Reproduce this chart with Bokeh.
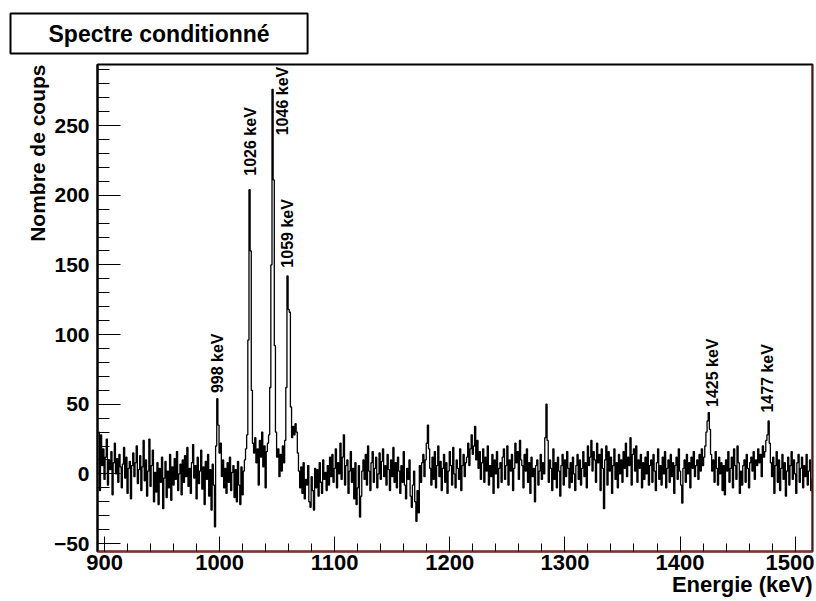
import numpy as np
from bokeh.plotting import figure
from bokeh.models import Label, Span, SingleIntervalTicker, Range1d, Title
from bokeh.embed import file_html
from bokeh.resources import INLINE

# Counts per 1 keV bin, in segments (start energy in keV)
seg_895 = [30, -12, 28, 6, 18, -4, 12, 25, -8, 10,
           3, 16, -15, 8, 22, 0, 11, -6, 14, 5,
           -10, 7, 19, -3, 12, -14, 4, 9, -18, 6,
           15, -2, 8, 20, -7, 3, 13, -12, 5, 24,
           -5, 10, -16, 2, 25, -9, 6, 17, -20, 1,
           -13, 8, -22, 4, -6, 12, -25, -3, 9, -17,
           2, -10, 14, -19, 5, -8, 11, -4, 16, -12,
           0, 7, -15, 10, -6, 13, -2, 19, -9, 4,
           -14, 8, 21, -3, 6, -18, 12, -7, 2, 17,
           -11, 5, -22, 9, -4, 14, -16, 3, -26, 7]
seg_995 = [-8, -38, 20, 54, 35, 15, 22, -2, 10, -10,
           4, -14, 8, -6, 12, -12, 1, 6, -17, 3,
           -20, 9, -8, -22, 5, -15, 2, 10, 18, 28,
           96, 204, 160, 60, 22, 15, 26, 8, 18, -8,
           24, 12, 30, 5, 20, -10, 16, 22, 28, 62,
           150, 276, 211, 92, 30, 12, 18, -2, 14, 2,
           20, 8, 24, 62, 142, 118, 116, 48, 26, 34,
           28, 36, 30, 15, 2, -10, 5, -14, 8, -18,
           -4, -8, 6, -20, -24, -2, -12, -26, 4, -10,
           3, -16, 8, -6, -14, 10, -4, 1, -12, 6]
seg_1095 = [-8, 12, -2, 14, -6, 4, 18, -10, 8, 0,
            22, -4, 12, 28, -8, 6, 10, -14, 2, 16,
            -6, 4, -18, 8, -22, -10, 6, -31, -16, 2,
            10, -4, 14, -8, 20, 2, -12, 8, 16, -6,
            4, 12, -10, 0, 15, -4, 9, 18, -2, 6,
            -8, 14, 3, -12, 10, -2, 19, -6, 8, -10,
            12, 2, -14, 6, -6, 16, -8, -18, 4, -4,
            10, -16, -24, -8, 2, -20, -34, -12, -28, 6,
            -6, 8, 14, -2, 10, 22, 35, 18, 4, -8,
            12, -4, 16, -10, 6, 20, -2, 9, -12, 4]
seg_1195 = [14, -6, 8, -14, 2, 16, 6, -8, 19, 0,
            -10, 10, 4, -4, 18, -12, 6, 14, -2, 8,
            12, 22, 6, 18, 28, 14, 20, 34, 10, 24,
            4, 16, -4, 8, 18, -6, 12, 2, 20, -8,
            6, -2, 14, -14, 10, 0, 16, -10, 4, 8,
            -6, 12, 18, -4, 6, 20, -8, 10, 2, 14,
            -12, 4, 22, 8, 16, -4, 24, 10, 6, -10,
            14, 2, 18, -6, 8, -14, 12, -2, 4, -20,
            6, 10, -8, 2, 14, -4, 8, 0, 26, 50,
            24, -6, 10, 4, -12, 18, -4, 8, -10, 12]
seg_1295 = [2, -16, 6, 14, -8, 10, -2, 16, 4, -10,
            8, -6, 12, 0, -12, 6, 14, -4, 10, -8,
            4, 16, -2, 8, -10, 20, 6, 12, 24, 2,
            16, 10, -6, 22, 8, 14, -12, 18, 4, -25,
            10, 20, -8, 16, 2, 12, -14, 6, 18, -4,
            8, -10, 14, 0, 10, -6, 16, 4, 22, -2,
            12, 6, 26, -8, 14, 18, 2, 20, -6, 10,
            4, 14, -10, 8, -4, 12, 0, 16, -8, 6,
            10, -6, 14, 2, -12, 8, 18, -4, 6, -8,
            12, 0, 16, -10, 4, 10, -6, 14, -2, 8]
seg_1395 = [-14, 6, 12, -4, 18, 2, -8, -21, 4, 10,
            -6, 14, 0, 8, -10, 12, 4, 16, -2, 6,
            10, -4, 14, 2, 18, 6, 12, 20, 30, 38,
            44, 32, 14, 2, 10, -6, 16, 4, -8, 12,
            0, 8, -12, 6, -15, 10, 2, 16, -6, 4,
            12, -10, 18, 6, -4, 20, 8, -14, 2, -8,
            6, 10, -6, 14, 4, -10, 8, 12, 2, 16,
            -4, 10, 6, 18, 8, 14, -2, 20, 12, 16,
            24, 28, 38, 22, 8, -2, 12, -14, 6, 16,
            -6, 10, -12, 4, 14, -4, 8, -16, 2, 12]
seg_1495 = [-8, 6, 16, -4, 10, 0, -14, 8, 14, -6,
            4, 12, -10, 6, -2, 14, -8, 2, 10, -12,
            -4, -10, 6, -6, 2, -12]

segments = [(895, seg_895), (995, seg_995), (1095, seg_1095), (1195, seg_1195),
            (1295, seg_1295), (1395, seg_1395), (1495, seg_1495)]

peak_label_x = [998, 1027, 1055, 1059, 1428, 1476]
peak_label_y = [58, 214, 243, 148, 48, 44]
peak_texts = ["998 keV", "1026 keV", "1046 keV", "1059 keV", "1425 keV", "1477 keV"]

energies = []
counts = []
for start, seg in segments:
    for i, c in enumerate(seg):
        energies.append(start + i)
        counts.append(c)

FONT = "Liberation Sans"
RED = "#9b2c2c"

X0, X1 = 893.9, 1515.1
Y0, Y1 = -55.7, 293.8

p = figure(width=814, height=600, output_backend="svg", toolbar_location=None,
           x_range=Range1d(X0, X1), y_range=Range1d(Y0, Y1),
           min_border_left=97, min_border_right=2, min_border_top=64, min_border_bottom=49)
p.background_fill_color = "white"
p.border_fill_color = "white"
p.grid.visible = False
p.outline_line_color = "black"
p.outline_line_width = 2

p.step(x=energies, y=counts, mode="center", line_color="black", line_width=1.3)

# Axes
p.xaxis.ticker = SingleIntervalTicker(interval=100, num_minor_ticks=5)
p.yaxis.ticker = SingleIntervalTicker(interval=50, num_minor_ticks=5)
for ax in (p.xaxis[0], p.yaxis[0]):
    ax.major_tick_out = 0
    ax.minor_tick_out = 0
    ax.major_label_text_font = FONT
    ax.major_label_text_font_style = "bold"
    ax.major_label_text_color = "black"
    ax.major_tick_line_color = "black"
    ax.minor_tick_line_color = "black"
p.xaxis.major_tick_in = 15
p.xaxis.minor_tick_in = 8
p.xaxis.major_label_text_font_size = "22px"
p.xaxis.major_label_standoff = 3
p.xaxis.axis_line_color = RED
p.xaxis.axis_line_width = 2
p.yaxis.major_tick_in = 23
p.yaxis.minor_tick_in = 12
p.yaxis.major_label_text_font_size = "21px"
p.yaxis.major_label_standoff = 8
p.yaxis.axis_line_color = "black"
p.yaxis.axis_line_width = 2

p.add_layout(Span(location=X1, dimension="height", line_color=RED, line_width=2))

# Peak labels
for lx, ly, t in zip(peak_label_x, peak_label_y, peak_texts):
    p.add_layout(Label(x=lx, y=ly, text=t, angle=np.pi / 2, text_align="left",
                       text_baseline="middle", text_font=FONT, text_font_style="bold",
                       text_font_size="16px", text_color="black"))

# Axis titles
p.add_layout(Title(text="Energie (keV)", align="right", text_font=FONT,
                   text_font_style="bold", text_font_size="22px", text_color="black",
                   standoff=-6), "below")
p.add_layout(Title(text="Nombre de coups", align="right", text_font=FONT,
                   text_font_style="bold", text_font_size="21px", text_color="black",
                   standoff=4), "left")

# Title box
p.add_layout(Title(text="Spectre conditionné", align="left", offset=-87, text_font=FONT,
                   text_font_style="bold", text_font_size="23px", text_color="black",
                   background_fill_color="white", border_line_color="black",
                   border_line_width=2, padding=(38, 7), standoff=22), "above")

open("out.html", "w").write(file_html(p, INLINE))
